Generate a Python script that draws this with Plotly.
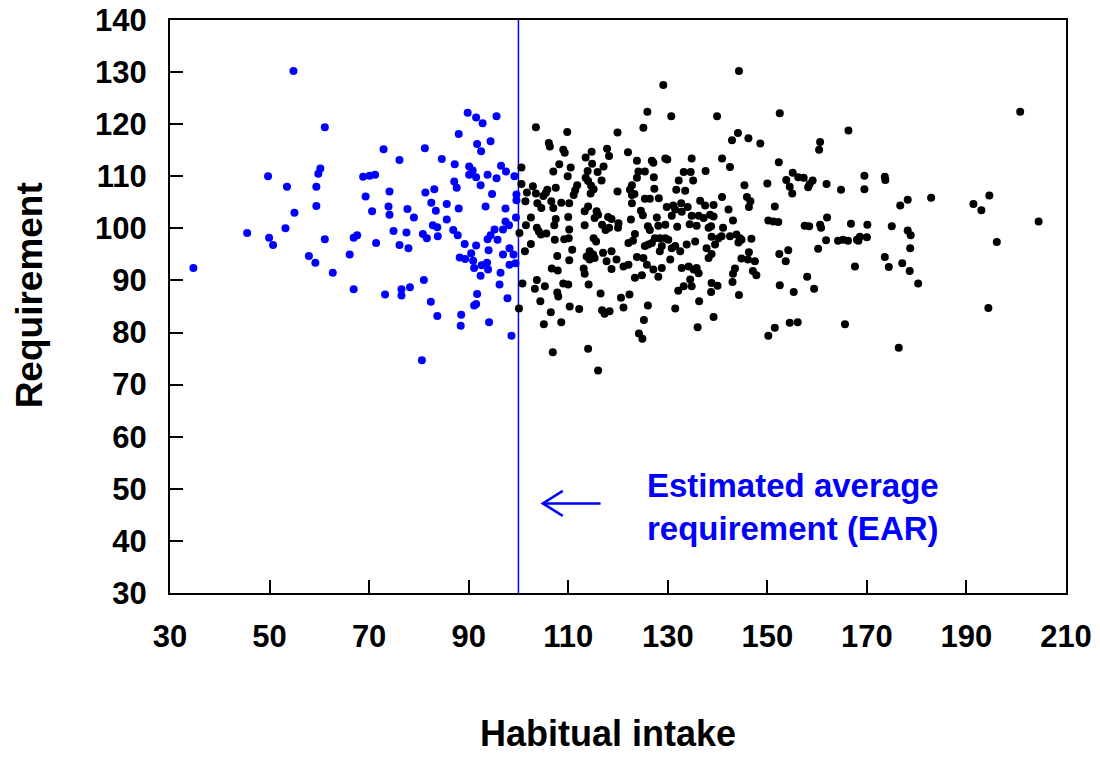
import plotly.graph_objects as go

EAR = 100

# (habitual intake, requirement) for individuals with intake below the EAR
below_ear = [
    (54.8,130.2),(61.1,119.4),(49.7,110.0),(60.2,111.5),(59.8,110.5),(53.5,108.0),(59.4,108.0),
    (68.8,109.9),(70.1,110.1),(71.2,110.3),(69.3,106.1),(70.6,103.3),(59.4,104.3),(55.0,103.0),
    (53.2,100.0),(45.5,99.1),(49.9,98.2),(50.7,96.8),(61.1,97.9),(66.9,98.2),(67.6,98.7),
    (71.4,97.2),(57.9,94.7),(59.2,93.4),(66.1,95.0),(62.7,91.5),(66.9,88.3),(34.7,92.4),
    (89.8,122.2),(91.5,121.3),(92.8,120.2),(95.6,121.5),(88.0,118.1),(91.7,116.2),(94.4,116.7),
    (92.5,114.8),(72.9,115.2),(81.2,115.4),(76.1,113.1),(84.6,113.3),(87.2,112.3),(90.1,111.9),
    (90.8,111.1),(90.1,110.3),(91.5,109.8),(93.8,110.3),(96.5,112.0),(97.5,110.9),(95.6,109.6),
    (99.2,110.0),(87.1,109.0),(87.6,107.8),(92.4,108.3),(94.7,106.6),(99.6,106.5),(99.6,105.4),
    (74.1,107.1),(81.3,106.9),(83.1,107.5),(82.5,104.9),(85.6,104.7),(73.9,104.2),(74.1,102.6),
    (77.7,103.7),(83.4,103.4),(88.0,103.8),(93.4,104.2),(97.4,103.8),(79.0,102.1),(85.6,101.7),
    (99.5,102.1),(97.4,101.3),(98.1,100.6),(96.9,99.8),(95.2,99.8),(74.9,99.5),(77.5,99.2),
    (82.8,100.6),(83.7,100.2),(80.8,98.9),(81.6,98.1),(83.8,98.5),(86.9,99.7),(87.8,98.7),
    (93.8,97.9),(94.4,98.7),(95.8,97.8),(76.1,96.8),(77.9,96.2),(89.2,97.0),(91.5,96.7),
    (94.0,95.8),(98.2,96.2),(96.9,95.0),(99.0,95.0),(90.5,95.2),(88.2,94.4),(89.3,94.1),
    (90.9,93.8),(92.6,92.9),(93.7,93.4),(93.9,92.1),(91.1,92.4),(92.4,90.9),(98.2,93.0),
    (99.4,93.3),(96.4,91.5),(96.2,89.2),(81.0,90.1),(78.2,88.7),(76.5,88.3),(76.5,87.1),
    (73.2,87.3),(91.7,87.4),(97.8,86.6),(82.4,85.9),(83.7,83.2),(91.5,85.5),(91.1,85.2),
    (88.5,83.4),(88.4,81.3),(94.1,82.0),(98.6,79.4),(80.6,74.7),
]

# (habitual intake, requirement) for individuals with intake above the EAR
above_ear = [
    (103.5,119.4),(109.8,118.5),(106.1,116.4),(106.3,115.7),(109.0,115.1),(109.3,114.5),(113.5,113.6),
    (114.7,114.7),(117.8,115.3),(118.2,113.9),(114.8,112.4),(108.2,112.3),(110.5,111.7),(107.0,110.9),
    (109.9,110.0),(113.9,111.0),(115.9,110.8),(117.1,111.9),(100.6,111.7),(100.6,108.5),(113.5,109.7),
    (114.0,109.1),(116.7,109.2),(111.8,108.3),(111.4,107.3),(111.1,106.4),(114.6,108.2),(115.1,107.5),
    (114.5,106.7),(107.5,107.8),(105.8,107.4),(105.5,106.8),(105.0,106.2),(102.9,108.1),(101.7,106.9),
    (103.5,106.7),(101.4,105.2),(103.8,104.8),(104.6,103.9),(106.6,105.2),(107.0,103.9),(108.6,104.9),
    (110.2,104.8),(113.3,103.3),(114.0,104.2),(115.7,103.3),(116.0,102.6),(115.3,102.0),(118.0,102.2),
    (118.7,101.8),(110.0,102.2),(107.5,101.8),(102.5,102.1),(101.5,100.6),(107.2,100.6),(103.7,100.1),
    (104.1,99.4),(104.5,98.8),(105.6,99.0),(110.2,99.8),(113.3,100.6),(116.8,100.7),(117.5,99.7),
    (118.2,100.1),(100.2,99.1),(107.3,97.8),(109.2,97.9),(110.1,98.1),(115.1,98.1),(115.6,97.5),
    (102.5,97.0),(101.3,95.6),(110.8,95.9),(107.8,94.7),(113.7,94.6),(114.3,95.6),(115.0,95.0),
    (115.3,94.3),(117.0,95.3),(118.7,95.6),
    (110.2,93.9),(114.3,94.0),(117.7,93.7),(118.7,92.2),(106.7,92.3),(107.9,91.9),(113.1,92.3),
    (113.3,91.3),(100.8,89.4),(103.7,90.1),(103.3,88.4),(105.3,88.9),(109.0,89.4),(110.0,89.2),
    (114.1,89.2),(107.8,87.7),(108.0,86.9),(104.4,86.0),(100.1,84.6),(110.3,85.0),(112.2,84.5),
    (106.5,83.9),(116.5,87.5),(116.8,84.3),(117.3,83.6),(118.3,84.1),(105.1,81.6),(108.6,82.0),
    (106.9,76.2),(114.0,76.9),(116.0,72.7),
    (129.1,127.5),(125.9,122.4),(130.7,121.5),(139.9,121.5),(125.1,119.3),(119.9,118.4),(122.0,114.6),
    (123.8,113.0),(126.8,113.0),(127.1,112.6),(129.5,113.4),(129.9,113.2),(134.8,113.4),(140.9,113.4),
    (137.6,111.0),(133.2,110.8),(134.6,110.8),(135.1,109.2),(132.2,109.2),(124.1,110.9),(125.4,110.9),
    (123.8,109.7),(127.2,109.8),(127.3,107.6),(131.7,107.4),(133.5,107.2),(119.9,107.1),(122.8,108.3),
    (122.4,107.4),(122.8,106.4),(123.3,106.6),(122.8,104.8),(125.4,105.7),(126.4,105.7),(128.2,105.8),
    (129.8,104.1),(131.1,104.4),(131.5,103.6),(132.7,104.8),(132.8,103.2),(134.0,104.1),(136.5,105.3),
    (137.5,104.4),(139.2,104.5),(140.9,106.0),(124.6,103.4),(125.0,102.5),(127.8,102.1),(130.8,102.4),
    (134.8,102.4),(136.2,102.4),(137.2,102.0),(138.5,102.6),(139.2,102.3),(122.6,101.7),(120.1,101.0),
    (120.0,100.1),(126.0,100.4),(126.4,99.7),(128.1,100.5),(129.5,100.7),(131.9,100.3),(134.4,100.8),
    (135.8,100.5),(138.2,100.1),(138.7,100.4),(123.4,98.9),
    (122.1,97.2),(123.0,97.6),(125.4,96.6),(126.1,96.9),(126.8,97.2),(127.4,98.1),(128.4,98.1),
    (129.5,98.1),(130.1,97.8),(128.8,96.6),(128.4,95.6),(130.8,96.2),(131.5,96.6),(132.5,95.6),
    (133.8,96.9),(135.5,97.5),(138.8,98.4),(140.2,98.1),(137.8,96.2),(139.5,96.9),(138.8,95.1),
    (138.2,94.3),(130.5,94.0),(119.7,94.0),(121.1,92.7),(122.1,93.0),(123.8,94.5),(125.1,94.3),
    (125.8,93.0),(127.1,92.1),(128.8,92.4),(128.1,90.7),(123.4,90.5),(124.8,91.0),(132.8,92.4),
    (134.2,92.7),(135.2,92.1),(136.2,91.4),(135.8,92.4),(134.5,90.2),(134.8,88.9),(133.2,88.9),
    (132.1,88.0),(138.8,89.5),(140.0,89.0),(138.7,87.8),(120.6,86.7),(122.3,87.3),(121.1,84.8),
    (126.0,85.2),(131.5,84.6),(136.3,86.0),(125.2,82.4),(139.2,83.0),(124.2,79.8),(124.9,78.8),
    (136.0,81.0),
    (144.3,130.2),(152.5,122.1),(166.3,118.8),(144.1,118.3),(142.9,116.9),(146.2,117.3),(148.6,116.3),
    (160.6,116.6),(160.4,115.1),(142.5,111.8),(152.3,112.7),(155.1,110.7),(156.2,109.8),(157.3,109.7),
    (153.8,109.3),(159.1,109.2),(158.5,108.5),(158.2,107.9),(154.5,108.0),(155.0,106.7),(161.9,108.5),
    (164.8,107.4),(150.0,108.6),(145.4,108.3),(145.9,106.0),(146.6,105.2),(146.3,104.1),(142.2,103.6),
    (143.1,101.5),(141.1,100.1),(151.5,104.2),(150.2,101.5),(151.2,101.3),(152.2,101.2),(157.5,100.5),
    (158.4,100.4),(160.6,100.7),(160.8,100.1),(162.0,102.1),(166.8,100.9),
    (140.8,98.5),(142.5,98.5),(143.8,98.8),(144.5,98.1),(144.2,97.3),(144.8,97.8),(146.8,98.0),
    (146.3,95.4),(144.8,94.2),(146.1,94.0),(147.5,93.7),(143.5,92.3),(143.1,91.3),(143.0,89.7),
    (147.1,91.8),(147.8,91.0),(144.3,87.2),(152.4,95.1),(154.2,95.8),(153.7,93.7),(161.8,97.7),
    (160.2,96.1),(164.2,97.6),(165.2,97.8),(166.2,97.6),(168.0,97.8),(167.6,92.7),(158.0,90.7),
    (152.5,89.1),(155.3,87.8),(159.4,88.4),(154.5,81.9),(156.1,82.0),(151.5,80.9),(150.2,79.4),
    (165.6,81.6),
    (169.5,110.1),(173.6,109.9),(173.7,109.3),(169.5,107.5),(178.2,105.5),(176.7,104.4),(182.9,105.9),
    (170.1,100.7),(175.0,100.4),(178.2,99.6),(178.8,98.7),(168.6,98.4),(168.3,97.6),(170.0,98.3),
    (178.7,96.2),(173.6,94.5),(174.4,92.6),(177.1,93.3),(178.6,91.8),(180.3,89.4),(176.4,77.1),
    (200.8,122.4),(194.6,106.3),(191.4,104.7),(193.0,103.5),(204.5,101.3),(196.1,97.4),(194.4,84.7),
]

x_ticks = [30, 50, 70, 90, 110, 130, 150, 170, 190, 210]
y_ticks = [30, 40, 50, 60, 70, 80, 90, 100, 110, 120, 130, 140]

BLUE = "#0000FF"
FONT = "Liberation Sans, Arial, Helvetica, sans-serif"

fig = go.Figure()

fig.add_trace(go.Scatter(
    x=[EAR, EAR], y=[y_ticks[0], y_ticks[-1]], mode="lines",
    line=dict(color=BLUE, width=1.5), hoverinfo="skip", showlegend=False))

fig.add_trace(go.Scatter(
    x=[p[0] for p in below_ear], y=[p[1] for p in below_ear], mode="markers",
    marker=dict(color=BLUE, size=8, line=dict(width=0)), showlegend=False))

fig.add_trace(go.Scatter(
    x=[p[0] for p in above_ear], y=[p[1] for p in above_ear], mode="markers",
    marker=dict(color="#000000", size=8, line=dict(width=0)), showlegend=False))

axis_common = dict(
    showgrid=False, zeroline=False, showline=True, linecolor="#000000", linewidth=2,
    mirror=True, ticks="inside", ticklen=13, tickwidth=2, tickcolor="#000000",
    automargin=False,
    tickfont=dict(family=FONT, size=31, color="#000000", weight="bold"),
)

fig.update_xaxes(range=[x_ticks[0], x_ticks[-1]], tickvals=x_ticks, ticklabelstandoff=15, **axis_common)
fig.update_yaxes(range=[y_ticks[0], y_ticks[-1]], tickvals=y_ticks, ticklabelstandoff=15, **axis_common)

# arrow pointing at the EAR line
fig.add_shape(type="line", xref="x", yref="y", x0=116.5, y0=47.2, x1=104.9, y1=47.2,
              line=dict(color=BLUE, width=2.5))
fig.add_shape(type="path", xref="x", yref="y", path="M 108.9 49.6 L 104.9 47.2 L 108.9 44.8",
              line=dict(color=BLUE, width=2.5))

fig.add_annotation(
    x=125.4, y=46.5, xref="x", yref="y", xanchor="left", yanchor="middle", align="left",
    text="Estimated average<br>requirement (EAR)", showarrow=False,
    font=dict(family=FONT, size=33, color=BLUE, weight="bold"))

fig.add_annotation(
    x=0.489, y=-0.246, xref="paper", yref="paper", xanchor="center", yanchor="middle",
    text="Habitual intake", showarrow=False, borderpad=0,
    font=dict(family=FONT, size=36, color="#000000", weight="bold"))

fig.add_annotation(
    x=-0.157, y=0.52, xref="paper", yref="paper", xanchor="center", yanchor="middle",
    text="Requirement", textangle=-90, showarrow=False,
    font=dict(family=FONT, size=37, color="#000000", weight="bold"))

fig.update_layout(
    width=1100, height=758,
    margin=dict(l=170, r=34, t=20, b=165),
    paper_bgcolor="#FFFFFF", plot_bgcolor="#FFFFFF",
    showlegend=False,
)

fig.write_html("out.html")
